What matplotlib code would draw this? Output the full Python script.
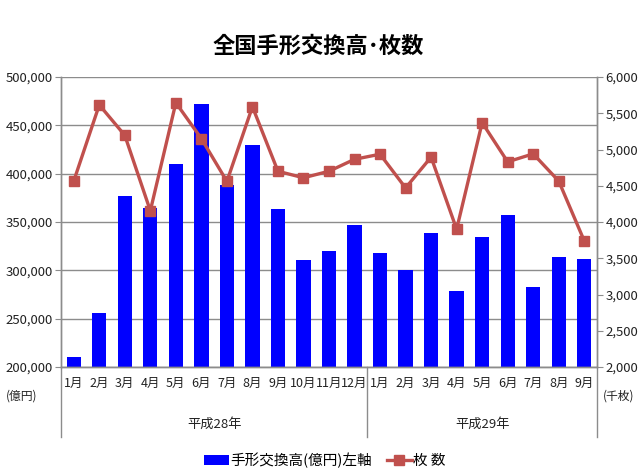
import matplotlib
matplotlib.use("Agg")
import matplotlib.pyplot as plt
import matplotlib.transforms as mtransforms
from matplotlib.lines import Line2D
from matplotlib.patches import Patch
from matplotlib.ticker import FuncFormatter, MultipleLocator

plt.rcParams['font.family'] = ['Noto Sans CJK JP', 'DejaVu Sans']

months = ["1月", "2月", "3月", "4月", "5月", "6月", "7月", "8月", "9月", "10月", "11月", "12月",
          "1月", "2月", "3月", "4月", "5月", "6月", "7月", "8月", "9月"]
groups = ["平成28年", "平成29年"]
group_sizes = [12, 9]
amount = [210500, 256000, 376500, 364500, 410000, 472500, 388000, 430000, 363000, 310500, 320000, 347000,
          317500, 300000, 339000, 279000, 334500, 357500, 282500, 313500, 312000]
sheets = [4565, 5615, 5195, 4155, 5645, 5150, 4560, 5590, 4700, 4610, 4700, 4865,
          4935, 4470, 4895, 3900, 5370, 4830, 4940, 4565, 3740]

title = "全国手形交換高･枚数"
bar_label = "手形交換高(億円)左軸"
line_label = "枚 数"

fig = plt.figure(figsize=(6.4, 4.76), dpi=100)
ax = fig.add_axes([61/640, 1-367/476, (597-61)/640, (367-77)/476])
x = list(range(len(months)))

ax.bar(x, amount, width=0.56, color="#0000FF", zorder=2)
ax.set_ylim(200000, 500000)
ax.set_xlim(-0.5, len(months) - 0.5)
ax.yaxis.set_major_locator(MultipleLocator(50000))
ax.yaxis.set_major_formatter(FuncFormatter(lambda v, p: f"{int(v):,}"))
ax.grid(axis='y', color="#8c8c8c", linewidth=1.0, zorder=0)
ax.set_axisbelow(True)

ax2 = ax.twinx()
ax2.plot(x, sheets, color="#C0504D", linewidth=2.4, marker='s', markersize=6.5, zorder=3)
ax2.set_ylim(2000, 6000)
ax2.yaxis.set_major_locator(MultipleLocator(500))
ax2.yaxis.set_major_formatter(FuncFormatter(lambda v, p: f"{int(v):,}"))

for a in (ax, ax2):
    a.spines['top'].set_visible(False)
    for s in ('left', 'right', 'bottom'):
        a.spines[s].set_color("#8c8c8c")
        a.spines[s].set_linewidth(1.0)
ax.tick_params(axis='y', length=4, color="#8c8c8c", labelsize=9.5, pad=2, labelcolor="#222222")
ax2.tick_params(axis='y', length=4, color="#8c8c8c", labelsize=9.5, pad=2, labelcolor="#222222")

ax.set_xticks(x)
ax.set_xticklabels(months, fontsize=9, color="#222222")
ax.tick_params(axis='x', length=0, pad=7)

trans = mtransforms.blended_transform_factory(ax.transData, ax.transAxes)
bounds = [-0.5]
for g in group_sizes:
    bounds.append(bounds[-1] + g)
for b in bounds:
    ax.plot([b, b], [0, -0.241], transform=trans, color="#8c8c8c", linewidth=1.0, clip_on=False)
for i, g in enumerate(groups):
    cx = (bounds[i] + bounds[i + 1]) / 2
    ax.text(cx, -0.197, g, transform=trans, ha='center', va='center', fontsize=9.5, color="#222222")

fig.text(22/640, 1-396/476, "(億円)", ha='center', va='center', fontsize=8.5, color="#222222")
fig.text(619/640, 1-396/476, "(千枚)", ha='center', va='center', fontsize=8.5, color="#222222")

fig.text(318/640, 1-46/476, title, ha='center', va='center', fontsize=16, fontweight='bold')

handles = [Patch(facecolor="#0000FF", edgecolor="none"),
           Line2D([0], [0], color="#C0504D", linewidth=2.4, marker='s', markersize=6.5)]
fig.legend(handles, [bar_label, line_label], loc='center', bbox_to_anchor=(325/640, 1-460/476),
           ncol=2, frameon=False, fontsize=10.5, handlelength=1.7, handletextpad=0.1, columnspacing=1.0)

fig.savefig("out.png", dpi=100)
